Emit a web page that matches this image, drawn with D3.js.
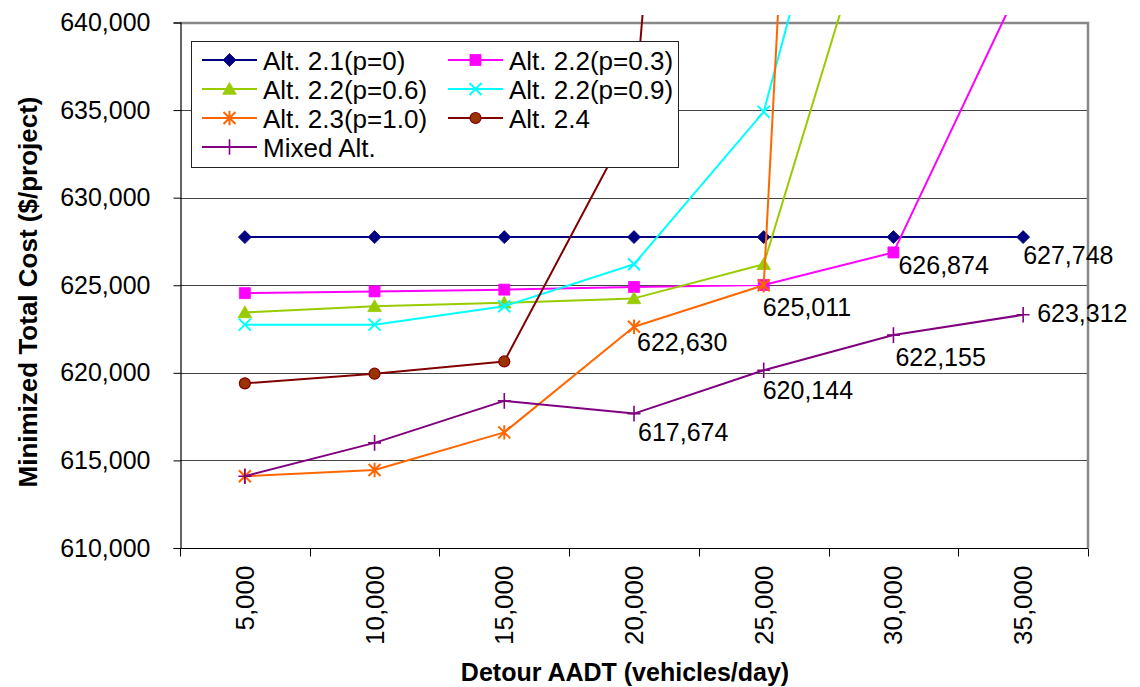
<!DOCTYPE html>
<html><head><meta charset="utf-8">
<script src="https://cdn.jsdelivr.net/npm/d3@7"></script>
<style>body{margin:0;background:#fff;} svg{display:block;}</style>
</head><body>
<svg id="chart" width="1140" height="687"></svg>
<script>
// ---------------- data ----------------
const categories = [5000, 10000, 15000, 20000, 25000, 30000, 35000];
const seriesNames = ["Alt. 2.1(p=0)", "Alt. 2.2(p=0.3)", "Alt. 2.2(p=0.6)", "Alt. 2.2(p=0.9)", "Alt. 2.3(p=1.0)", "Alt. 2.4", "Mixed Alt."];
const alt21    = [627748, 627748, 627748, 627748, 627748, 627748, 627748];
const alt22p03 = [624550, 624650, 624750, 624900, 625011, 626874, 642500];
const alt22p06 = [623450, 623800, 624000, 624250, 626200, 650500, null];
const alt22p09 = [622750, 622750, 623800, 626200, 634900, 662500, null];
const alt23    = [614100, 614450, 616600, 622630, 625000, 766000, null];
const alt24    = [619400, 619950, 620650, 634600, 723000, null, null];
const mixedAlt = [614100, 616000, 618400, 617674, 620144, 622155, 623312];
const yTicks = [610000, 615000, 620000, 625000, 630000, 635000, 640000];
// data labels: [series index, point index]
const labelledPoints = [[0, 6], [1, 5], [1, 4], [4, 3], [6, 3], [6, 4], [6, 5], [6, 6]];

// ---------------- styles / layout ----------------
const seriesValues = [alt21, alt22p03, alt22p06, alt22p09, alt23, alt24, mixedAlt];
const styles = [
  {color: "#000080", marker: "diamond", fill: "#000080"},
  {color: "#FF00FF", marker: "square", fill: "#FF00FF"},
  {color: "#99CC00", marker: "triangle", fill: "#99CC00"},
  {color: "#00FFFF", marker: "x", fill: "none"},
  {color: "#FF6600", marker: "star", fill: "none"},
  {color: "#800000", marker: "circle", fill: "#993300"},
  {color: "#800080", marker: "plus", fill: "none"}
];
const labelOffsets = [[0, 27], [5, 22], [-1, 31], [3, 24], [4, 27], [-1, 29], [2, 31], [14, 7]];

const W = 1140, H = 687;
const plot = {left: 180, right: 1088, top: 22.5, bottom: 548};
const FONT = "'Liberation Sans', Arial, sans-serif";

const svg = d3.select("#chart");
const x = d3.scaleBand().domain(categories).range([plot.left, plot.right]).paddingInner(0).paddingOuter(0);
const y = d3.scaleLinear().domain([610000, 640000]).range([plot.bottom, plot.top]);
const cx = d => x(d) + x.bandwidth() / 2;
const fmt = d3.format(",");

// gridlines
svg.append("g").selectAll("line").data(yTicks.filter(t => t > 610000 && t < 640000)).join("line")
  .attr("x1", plot.left).attr("x2", plot.right)
  .attr("y1", d => Math.round(y(d)) + 0.5).attr("y2", d => Math.round(y(d)) + 0.5)
  .attr("stroke", "#444").attr("stroke-width", 1);

// top / right border
svg.append("path")
  .attr("d", `M${plot.left},${plot.top + 0.5}H${plot.right}V${plot.bottom}`)
  .attr("fill", "none").attr("stroke", "#888").attr("stroke-width", 2.5);

// y axis
const yAxis = d3.axisLeft(y).tickValues(yTicks).tickFormat(fmt).tickSize(7).tickPadding(23);
const gy = svg.append("g").attr("transform", `translate(${plot.left + 0.5},0)`).call(yAxis);
gy.select(".domain").attr("stroke", "#000").attr("stroke-width", 1.2);
gy.selectAll(".tick line").attr("stroke", "#000");
gy.selectAll(".tick text").attr("font-family", FONT).attr("font-size", 25).attr("fill", "#000");

// x axis (ticks at category boundaries)
const gx = svg.append("g").attr("transform", `translate(0,${plot.bottom + 0.5})`);
gx.append("line").attr("x1", plot.left).attr("x2", plot.right).attr("stroke", "#000").attr("stroke-width", 1.2);
const bounds = categories.map(c => x(c)).concat([plot.right]);
gx.selectAll("line.tk").data(bounds).join("line").attr("class", "tk")
  .attr("x1", d => Math.round(d) + 0.5).attr("x2", d => Math.round(d) + 0.5)
  .attr("y1", 0).attr("y2", 8).attr("stroke", "#000");
gx.selectAll("text.lbl").data(categories).join("text").attr("class", "lbl")
  .attr("transform", d => `translate(${cx(d) + 9},17) rotate(-90)`)
  .attr("text-anchor", "end")
  .attr("font-family", FONT).attr("font-size", 26).attr("fill", "#000")
  .text(d => fmt(d));

// axis titles
svg.append("text").attr("x", 625).attr("y", 681).attr("text-anchor", "middle")
  .attr("font-family", FONT).attr("font-size", 25).attr("font-weight", "bold")
  .text("Detour AADT (vehicles/day)");
svg.append("text").attr("transform", "translate(37,292) rotate(-90)").attr("text-anchor", "middle")
  .attr("font-family", FONT).attr("font-size", 26).attr("font-weight", "bold")
  .text("Minimized Total Cost ($/project)");

// clip
svg.append("defs").append("clipPath").attr("id", "clip")
  .append("rect").attr("x", plot.left).attr("y", 15).attr("width", plot.right - plot.left).attr("height", plot.bottom - 15 + 2);

function markerPath(type, s) {
  switch (type) {
    case "diamond": return `M0,${-s}L${s},0L0,${s}L${-s},0Z`;
    case "square": return `M${-s},${-s}H${s}V${s}H${-s}Z`;
    case "triangle": return `M0,${-s * 1.05}L${s * 1.1},${s * 0.85}L${-s * 1.1},${s * 0.85}Z`;
    case "x": return `M${-s},${-s}L${s},${s}M${-s},${s}L${s},${-s}`;
    case "star": return `M${-s},${-s}L${s},${s}M${-s},${s}L${s},${-s}M0,${-s * 1.2}V${s * 1.2}`;
    case "plus": return `M${-s},0H${s}M0,${-s * 1.2}V${s * 1.2}`;
  }
}
function drawMarker(g, st, px, py) {
  if (st.marker === "circle") {
    g.append("circle").attr("cx", px).attr("cy", py).attr("r", 5.5)
      .attr("fill", st.fill).attr("stroke", st.color).attr("stroke-width", 1.2);
    return;
  }
  const sizes = {diamond: 6.5, square: 5.5, triangle: 6.2, x: 6, star: 6, plus: 6.5};
  const filled = st.fill !== "none";
  g.append("path").attr("transform", `translate(${px},${py})`)
    .attr("d", markerPath(st.marker, sizes[st.marker]))
    .attr("fill", filled ? st.fill : "none")
    .attr("stroke", st.color).attr("stroke-width", filled ? 0.8 : (st.marker === "plus" ? 1.6 : 2));
}

// series
const line = d3.line().defined(d => d.v !== null).x(d => cx(d.c)).y(d => y(d.v));
const seriesG = svg.append("g").attr("clip-path", "url(#clip)");
seriesValues.forEach((vals, si) => {
  const st = styles[si];
  const pts = vals.map((v, i) => ({c: categories[i], v}));
  const g = seriesG.append("g");
  g.append("path").datum(pts).attr("d", line).attr("fill", "none")
    .attr("stroke", st.color).attr("stroke-width", 2).attr("stroke-linejoin", "round");
  pts.filter(p => p.v !== null && p.v <= 640000 && p.v >= 610000)
    .forEach(p => drawMarker(g, st, cx(p.c), y(p.v)));
});

// data labels
labelledPoints.forEach(([si, pi], k) => {
  const v = seriesValues[si][pi];
  svg.append("text")
    .attr("x", cx(categories[pi]) + labelOffsets[k][0])
    .attr("y", y(v) + labelOffsets[k][1])
    .attr("font-family", FONT).attr("font-size", 25).attr("fill", "#000")
    .text(fmt(v));
});

// legend
const lg = svg.append("g");
lg.append("rect").attr("x", 191.5).attr("y", 41.5).attr("width", 487).attr("height", 126)
  .attr("fill", "#fff").attr("stroke", "#222").attr("stroke-width", 1);
seriesNames.forEach((name, i) => {
  const col = i % 2, row = Math.floor(i / 2);
  const lx = col === 0 ? 202 : 448;
  const ly = 60 + row * 29;
  const st = styles[i];
  lg.append("line").attr("x1", lx).attr("x2", lx + 55).attr("y1", ly).attr("y2", ly)
    .attr("stroke", st.color).attr("stroke-width", 2);
  drawMarker(lg, st, lx + 27.5, ly);
  lg.append("text").attr("x", lx + 61).attr("y", ly + 9.5)
    .attr("font-family", FONT).attr("font-size", 26).attr("fill", "#000").text(name);
});
</script>
</body></html>
